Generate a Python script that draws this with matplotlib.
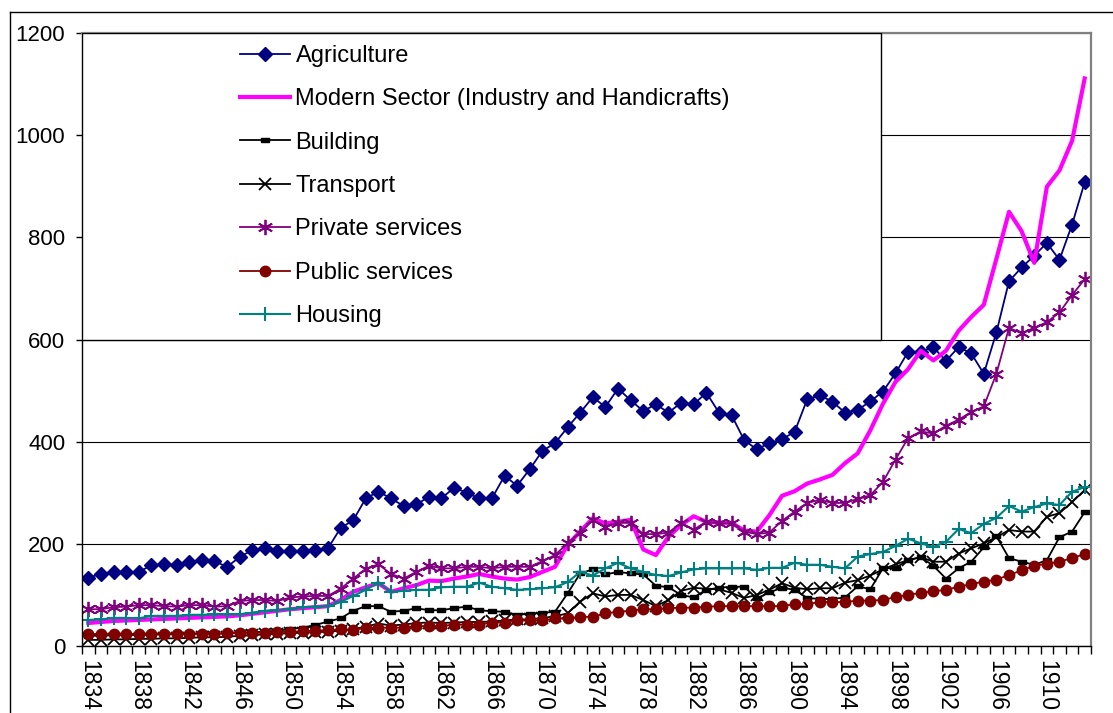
import matplotlib
matplotlib.use('Agg')
import matplotlib.pyplot as plt
from matplotlib.lines import Line2D
from matplotlib.patches import Rectangle
import numpy as np

# values per year (1834 - 1913)
years = list(range(1834, 1914))

agriculture = [134, 141, 145, 144, 145, 158, 160, 158, 164, 168, 166, 155, 174, 188, 191, 186, 185, 185, 188, 191,
               231, 246, 289, 302, 289, 274, 277, 292, 289, 310, 300, 289, 289, 333, 314, 346, 382, 397, 428, 457,
               487, 468, 504, 481, 460, 473, 457, 476, 473, 496, 457, 452, 403, 385, 397, 405, 419, 483, 491, 478,
               457, 462, 479, 498, 534, 576, 576, 585, 558, 585, 573, 533, 614, 714, 741, 764, 789, 756, 825, 908]

modern = [45, 47, 49, 50, 51, 52, 53, 54, 55, 56, 57, 58, 60, 63, 66, 69, 72, 74, 76, 78,
          90, 106, 115, 123, 106, 113, 119, 128, 127, 132, 136, 141, 136, 132, 130, 135, 145, 155, 198, 224,
          250, 240, 243, 247, 189, 178, 214, 237, 254, 243, 242, 241, 226, 224, 256, 294, 303, 318, 326, 335,
          358, 377, 422, 474, 517, 542, 578, 559, 578, 617, 644, 668, 758, 850, 812, 750, 899, 931, 989, 1111]

building = [20, 20, 21, 21, 22, 22, 23, 23, 24, 24, 24, 25, 26, 27, 28, 30, 33, 36, 41, 48,
            54, 69, 78, 78, 67, 69, 74, 70, 70, 74, 77, 70, 68, 67, 61, 63, 65, 67, 103, 142,
            150, 140, 145, 142, 140, 118, 115, 100, 95, 110, 114, 116, 116, 93, 105, 114, 110, 94, 92, 92,
            95, 117, 111, 152, 153, 168, 174, 157, 132, 152, 165, 193, 215, 172, 165, 159, 168, 213, 224, 262]

transport = [12, 12, 13, 13, 14, 14, 15, 15, 16, 17, 17, 18, 20, 21, 23, 24, 25, 26, 27, 28,
             30, 33, 38, 44, 40, 42, 45, 46, 45, 46, 47, 47, 48, 50, 52, 52, 55, 58, 64, 87,
             103, 97, 100, 100, 90, 78, 90, 108, 114, 112, 111, 104, 94, 100, 110, 123, 114, 111, 113, 113,
             124, 129, 138, 150, 160, 168, 174, 165, 165, 181, 191, 201, 213, 227, 224, 224, 253, 260, 282, 305]

private = [72, 72, 76, 77, 80, 80, 78, 77, 80, 80, 77, 78, 88, 90, 90, 88, 95, 97, 98, 98,
           112, 132, 151, 160, 141, 132, 145, 157, 152, 152, 155, 155, 152, 155, 155, 155, 166, 178, 201, 222,
           247, 233, 241, 241, 219, 219, 222, 241, 228, 243, 240, 240, 224, 219, 222, 245, 263, 280, 286, 280,
           280, 288, 295, 321, 365, 407, 420, 416, 431, 443, 458, 469, 533, 623, 612, 623, 634, 653, 687, 718]

public = [23, 24, 24, 23, 24, 24, 24, 24, 24, 24, 24, 25, 26, 26, 26, 27, 28, 29, 30, 31,
          33, 31, 36, 36, 36, 36, 39, 39, 39, 42, 42, 42, 46, 46, 50, 50, 50, 54, 54, 57,
          57, 64, 67, 69, 72, 72, 74, 75, 75, 77, 78, 78, 78, 78, 78, 78, 82, 82, 86, 86,
          86, 89, 89, 90, 96, 100, 104, 107, 110, 116, 121, 126, 130, 139, 148, 157, 161, 165, 172, 180]

housing = [51, 52, 55, 55, 54, 59, 59, 59, 61, 61, 62, 62, 62, 65, 69, 70, 72, 76, 77, 78,
           86, 98, 110, 124, 106, 108, 110, 110, 115, 116, 116, 124, 116, 113, 110, 111, 113, 115, 125, 145,
           138, 152, 163, 152, 145, 139, 137, 144, 150, 152, 152, 152, 152, 149, 153, 153, 163, 159, 159, 155,
           152, 175, 180, 184, 196, 210, 201, 194, 204, 229, 221, 239, 251, 274, 263, 272, 279, 276, 302, 311]

labels = ['Agriculture', 'Modern Sector (Industry and Handicrafts)', 'Building', 'Transport',
          'Private services', 'Public services', 'Housing']

W, H = 1113, 713


def main():
  plt.rcParams['font.family'] = ['Liberation Sans', 'DejaVu Sans']
  fig = plt.figure(figsize=(W / 100, H / 100), dpi=100)
  # plot area in pixels: x 82..1091, y 33..646 (from top)
  ax = fig.add_axes([82 / W, (H - 646) / H, 1009 / W, 613 / H])

  # short flat dash marker like the excel one
  dash = [(-1, -0.4), (1, -0.4), (1, 0.4), (-1, 0.4), (-1, -0.4)]

  handles = []
  h, = ax.plot(years, agriculture, color='#000080', lw=1.3, marker='D', ms=7.5, zorder=2)
  handles.append(h)
  h, = ax.plot(years, modern, color='#FF00FF', lw=3, zorder=2)
  handles.append(h)
  h, = ax.plot(years, building, color='black', lw=1.3, marker=dash, ms=5.5, zorder=2)
  handles.append(h)
  h, = ax.plot(years, transport, color='black', lw=1.3, marker='x', ms=8.5, mew=1.3, zorder=2)
  handles.append(h)
  h, = ax.plot(years, private, color='#800080', lw=1.3, marker=(6, 2, 0), ms=11, mew=1.3, zorder=2)
  handles.append(h)
  h, = ax.plot(years, public, color='#800000', lw=1.3, marker='o', ms=7.5, zorder=2)
  handles.append(h)
  h, = ax.plot(years, housing, color='#008080', lw=1.5, marker='+', ms=10, mew=1.5, zorder=2)
  handles.append(h)

  ax.set_xlim(1833.5, 1913.5)
  ax.set_ylim(0, 1200)
  ax.set_yticks(range(0, 1201, 200))
  ax.yaxis.grid(True, color='black', lw=0.8)
  ax.set_axisbelow(True)

  ax.set_xticks(years[::4])
  ax.set_xticklabels([str(y) for y in years[::4]])
  ax.set_xticks(np.arange(1833.5, 1914, 1), minor=True)
  ax.tick_params(axis='x', which='major', length=0, pad=10, labelsize=16.5, labelrotation=-90)
  ax.tick_params(axis='x', which='minor', length=6, width=1, direction='out')
  ax.tick_params(axis='y', length=4, width=1, direction='out', pad=8, labelsize=16)

  for side in ['left', 'bottom']:
    ax.spines[side].set_color('black')
    ax.spines[side].set_linewidth(1)
  for side in ['top', 'right']:
    ax.spines[side].set_color('#808080')
    ax.spines[side].set_linewidth(1.6)

  # legend box
  box_right = (881 - 82) / 1009
  ax.add_patch(Rectangle((0, 0.5), box_right, 0.5, transform=ax.transAxes,
                         facecolor='white', edgecolor='black', lw=1, zorder=3))
  ax.legend(handles, labels, loc='upper left', bbox_to_anchor=(240 / W, 1 - 45 / H),
            bbox_transform=fig.transFigure, frameon=False, fontsize=17,
            handlelength=2.1, handletextpad=0.25, labelspacing=0.905,
            borderpad=0, borderaxespad=0, numpoints=1)

  # outer chart frame, cut by the picture edges
  fig.add_artist(Line2D([10 / W, 10 / W], [0, 1 - 12 / H], color='black', lw=1))
  fig.add_artist(Line2D([10 / W, 1], [1 - 12 / H, 1 - 12 / H], color='black', lw=1))

  fig.savefig('out.png', dpi=100)
  plt.close()


if __name__ == '__main__':
  main()
